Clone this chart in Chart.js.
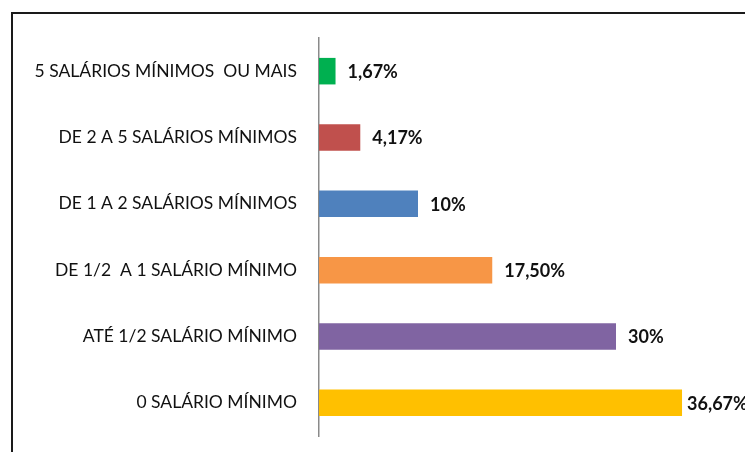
<!DOCTYPE html>
<html>
<head>
<meta charset="utf-8">
<script src="https://cdn.jsdelivr.net/npm/chart.js@4/dist/chart.umd.min.js"></script>
<style>
html,body{margin:0;padding:0;background:#fff;}
#wrap{width:745px;height:452px;position:relative;}
</style>
</head>
<body>
<div id="wrap"><canvas id="c" width="745" height="452"></canvas></div>
<script>
const categories = [
  "5 SALÁRIOS MÍNIMOS  OU MAIS",
  "DE 2 A 5 SALÁRIOS MÍNIMOS",
  "DE 1 A 2 SALÁRIOS MÍNIMOS",
  "DE 1/2  A 1 SALÁRIO MÍNIMO",
  "ATÉ 1/2 SALÁRIO MÍNIMO",
  "0 SALÁRIO MÍNIMO"
];
const values = [1.67, 4.17, 10, 17.5, 30, 36.67];
const valueLabels = ["1,67%", "4,17%", "10%", "17,50%", "30%", "36,67%"];
const colors = ["#00B050", "#C0504D", "#4F81BD", "#F79646", "#8064A2", "#FFC000"];

const frame = {
  id: 'frame',
  beforeDraw(chart) {
    const ctx = chart.ctx;
    ctx.save();
    ctx.fillStyle = '#fff';
    ctx.fillRect(0, 0, chart.width, chart.height);
    ctx.strokeStyle = '#1a1a1a';
    ctx.lineWidth = 2;
    ctx.strokeRect(12, 13, 900, 900);
    ctx.restore();
  }
};

const valueLabelPlugin = {
  id: 'valueLabels',
  afterDatasetsDraw(chart) {
    const ctx = chart.ctx;
    const meta = chart.getDatasetMeta(0);
    ctx.save();
    ctx.font = 'bold 18px Lato, "Open Sans", sans-serif';
    ctx.fillStyle = '#111';
    ctx.textAlign = 'left';
    ctx.textBaseline = 'middle';
    meta.data.forEach((bar, i) => {
      const txt = valueLabels[i];
      const w = ctx.measureText(txt).width;
      let x = bar.x + 12;
      if (x + w > chart.width - 2) x = bar.x + 5;
      ctx.fillText(txt, x, bar.y + 1);
    });
    ctx.restore();
  }
};

new Chart(document.getElementById('c'), {
  type: 'bar',
  data: {
    labels: categories,
    datasets: [{
      data: values,
      backgroundColor: colors,
      borderWidth: 0,
      barPercentage: 0.8,
      categoryPercentage: 0.5
    }]
  },
  options: {
    indexAxis: 'y',
    responsive: false,
    animation: false,
    devicePixelRatio: 1,
    layout: { padding: { left: 0, right: 30, top: 38, bottom: 16 } },
    plugins: { legend: { display: false }, tooltip: { enabled: false } },
    scales: {
      x: {
        display: false,
        min: 0,
        max: 40
      },
      y: {
        grid: { display: false, drawTicks: false },
        border: { display: true, color: '#8a8a8a', width: 1.5 },
        ticks: {
          color: '#111',
          padding: 22,
          font: { family: 'Lato, "Open Sans", sans-serif', size: 17.5 }
        },
        afterFit(scale) {
          scale.width = 319;
          scale.paddingTop = 0;
          scale.paddingBottom = 0;
        }
      }
    }
  },
  plugins: [frame, valueLabelPlugin]
});
</script>
</body>
</html>
